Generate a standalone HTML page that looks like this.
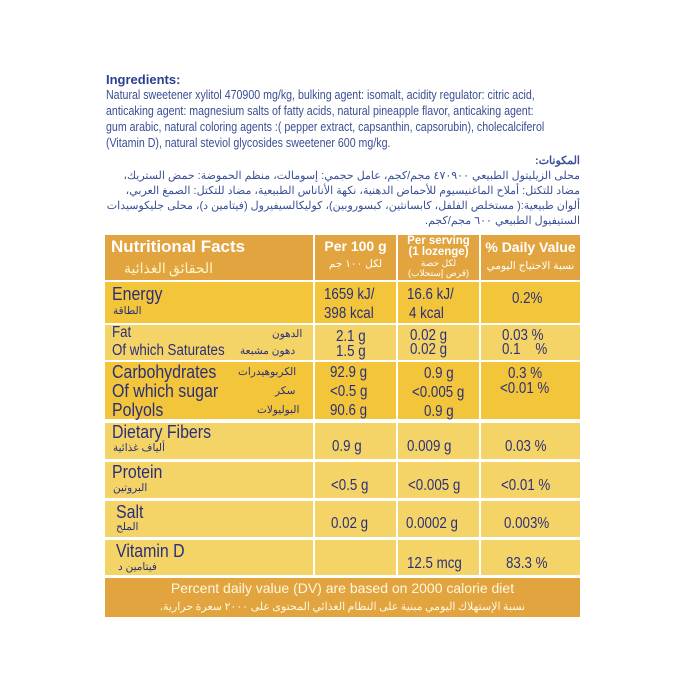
<!DOCTYPE html>
<html><head><meta charset="utf-8"><style>
body{margin:0;width:680px;height:680px;background:#fff;position:relative;overflow:hidden;font-family:"Liberation Sans",sans-serif;color:#2b2f7a}
.a{position:absolute;white-space:nowrap}
.c{position:absolute}
.ing{color:#3a4f95;font-size:12.5px;transform-origin:0 0;transform:scaleX(0.85)}
.ar{font-family:"Liberation Sans","Noto Sans CJK SC",sans-serif;direction:rtl;color:#3a4f95;font-size:11px;text-align:right;right:100px}
.h{background:#e1a43f}
.d{background:#f3c53a}
.l{background:#f5d467}
.t{font-size:15.5px;transform-origin:0 0;transform:scaleX(0.86);color:#2b2f7a}
.big{font-size:18.5px;transform-origin:0 0;transform:scaleX(0.86);color:#2b2f7a}
.sm{font-size:10.5px;font-family:"Liberation Sans","Noto Sans CJK SC",sans-serif;color:#2b2f7a}
.w{color:#fff;font-weight:bold}
.cen{text-align:center}
</style></head><body>
<div class="a" style="left:106px;top:72px;font-weight:bold;font-size:13px;color:#2b3f8f">Ingredients:</div>
<div class="a ing" style="left:106px;top:88px">Natural sweetener xylitol 470900 mg/kg, bulking agent: isomalt, acidity regulator: citric acid,</div>
<div class="a ing" style="left:106px;top:104px">anticaking agent: magnesium salts of fatty acids, natural pineapple flavor, anticaking agent:</div>
<div class="a ing" style="left:106px;top:120px">gum arabic, natural coloring agents :( pepper extract, capsanthin, capsorubin), cholecalciferol</div>
<div class="a ing" style="left:106px;top:136px">(Vitamin D), natural steviol glycosides sweetener 600 mg/kg.</div>
<div class="a ar" style="top:154px;font-weight:bold">المكونات:</div>
<div class="a ar" style="top:169px">محلى الزيليتول الطبيعي ٤٧٠٩٠٠ مجم/كجم، عامل حجمي: إسومالت، منظم الحموضة: حمض الستريك،</div>
<div class="a ar" style="top:184px">مضاد للتكتل: أملاح الماغنيسيوم للأحماض الدهنية، نكهة الأناناس الطبيعية، مضاد للتكتل: الصمغ العربي،</div>
<div class="a ar" style="top:199px">ألوان طبيعية:( مستخلص الفلفل، كابسانثين، كبسوروبين)، كوليكالسيفيرول (فيتامين د)، محلى جليكوسيدات</div>
<div class="a ar" style="top:214px">الستيفيول الطبيعي ٦٠٠ مجم/كجم.</div>

<div class="c h" style="left:105px;top:235px;width:208px;height:45px"></div>
<div class="c h" style="left:315px;top:235px;width:81px;height:45px"></div>
<div class="c h" style="left:398px;top:235px;width:81px;height:45px"></div>
<div class="c h" style="left:481px;top:235px;width:99px;height:45px"></div>
<div class="a w" style="left:111px;top:237px;font-size:17px">Nutritional Facts</div>
<div class="a" style="left:124px;top:258px;font-size:14px;color:#fff4c8;font-family:'Noto Sans CJK SC',sans-serif">الحقائق الغذائية</div>
<div class="a w cen" style="left:315px;width:81px;top:238px;font-size:14px">Per 100 g</div>
<div class="a cen sm" style="left:315px;width:81px;top:258px;color:#fff">لكل ١٠٠ جم</div>
<div class="a w cen" style="left:398px;width:81px;top:236px;font-size:11.5px;line-height:11px">Per serving<br>(1 lozenge)</div>
<div class="a cen sm" style="left:398px;width:81px;top:258px;color:#fff;font-size:9px;line-height:10px">لكل حصة<br>(قرص إستحلاب)</div>
<div class="a w cen" style="left:481px;width:99px;top:239px;font-size:14px">% Daily Value</div>
<div class="a cen sm" style="left:481px;width:99px;top:260px;color:#fff">نسبة الاحتياج اليومي</div>

<div class="c d" style="left:105px;top:282px;width:208px;height:41px"></div><div class="c d" style="left:315px;top:282px;width:81px;height:41px"></div><div class="c d" style="left:398px;top:282px;width:81px;height:41px"></div><div class="c d" style="left:481px;top:282px;width:99px;height:41px"></div>
<div class="c l" style="left:105px;top:325px;width:208px;height:35px"></div><div class="c l" style="left:315px;top:325px;width:81px;height:35px"></div><div class="c l" style="left:398px;top:325px;width:81px;height:35px"></div><div class="c l" style="left:481px;top:325px;width:99px;height:35px"></div>
<div class="c d" style="left:105px;top:362px;width:208px;height:57px"></div><div class="c d" style="left:315px;top:362px;width:81px;height:57px"></div><div class="c d" style="left:398px;top:362px;width:81px;height:57px"></div><div class="c d" style="left:481px;top:362px;width:99px;height:57px"></div>
<div class="c l" style="left:105px;top:423px;width:208px;height:36px"></div><div class="c l" style="left:315px;top:423px;width:81px;height:36px"></div><div class="c l" style="left:398px;top:423px;width:81px;height:36px"></div><div class="c l" style="left:481px;top:423px;width:99px;height:36px"></div>
<div class="c l" style="left:105px;top:462px;width:208px;height:36px"></div><div class="c l" style="left:315px;top:462px;width:81px;height:36px"></div><div class="c l" style="left:398px;top:462px;width:81px;height:36px"></div><div class="c l" style="left:481px;top:462px;width:99px;height:36px"></div>
<div class="c l" style="left:105px;top:501px;width:208px;height:36px"></div><div class="c l" style="left:315px;top:501px;width:81px;height:36px"></div><div class="c l" style="left:398px;top:501px;width:81px;height:36px"></div><div class="c l" style="left:481px;top:501px;width:99px;height:36px"></div>
<div class="c l" style="left:105px;top:540px;width:208px;height:35px"></div><div class="c l" style="left:315px;top:540px;width:81px;height:35px"></div><div class="c l" style="left:398px;top:540px;width:81px;height:35px"></div><div class="c l" style="left:481px;top:540px;width:99px;height:35px"></div>
<div class="c h" style="left:105px;top:578px;width:475px;height:39px"></div>

<div class="a big" style="left:112px;top:283px">Energy</div>
<div class="a sm" style="left:113px;top:305px">الطاقة</div>
<div class="a t" style="left:324px;top:286px">1659 kJ/</div>
<div class="a t" style="left:324px;top:305px">398 kcal</div>
<div class="a t" style="left:407px;top:286px">16.6 kJ/</div>
<div class="a t" style="left:409px;top:305px">4 kcal</div>
<div class="a t" style="left:512px;top:290px">0.2%</div>
<div class="a t" style="left:112px;top:324px">Fat</div>
<div class="a t" style="left:112px;top:342px">Of which Saturates</div>
<div class="a sm" style="left:272px;top:328px">الدهون</div>
<div class="a sm" style="left:240px;top:345px">دهون مشبعة</div>
<div class="a t" style="left:336px;top:328px">2.1 g</div>
<div class="a t" style="left:336px;top:343px">1.5 g</div>
<div class="a t" style="left:410px;top:327px">0.02 g</div>
<div class="a t" style="left:410px;top:341px">0.02 g</div>
<div class="a t" style="left:502px;top:327px">0.03 %</div>
<div class="a t" style="left:502px;top:341px">0.1 &nbsp;&nbsp;&nbsp;%</div>
<div class="a big" style="left:112px;top:361px">Carbohydrates</div>
<div class="a big" style="left:112px;top:380px">Of which sugar</div>
<div class="a big" style="left:112px;top:399px">Polyols</div>
<div class="a sm" style="left:238px;top:366px">الكربوهيدرات</div>
<div class="a sm" style="left:275px;top:385px">سكر</div>
<div class="a sm" style="left:257px;top:404px">البوليولات</div>
<div class="a t" style="left:330px;top:364px">92.9 g</div>
<div class="a t" style="left:330px;top:383px">&lt;0.5 g</div>
<div class="a t" style="left:330px;top:402px">90.6 g</div>
<div class="a t" style="left:424px;top:365px">0.9 g</div>
<div class="a t" style="left:412px;top:384px">&lt;0.005 g</div>
<div class="a t" style="left:424px;top:403px">0.9 g</div>
<div class="a t" style="left:508px;top:365px">0.3 %</div>
<div class="a t" style="left:500px;top:380px">&lt;0.01 %</div>
<div class="a big" style="left:112px;top:421px">Dietary Fibers</div>
<div class="a sm" style="left:113px;top:442px">ألياف غذائية</div>
<div class="a t" style="left:332px;top:438px">0.9 g</div>
<div class="a t" style="left:407px;top:438px">0.009 g</div>
<div class="a t" style="left:505px;top:438px">0.03 %</div>
<div class="a big" style="left:112px;top:461px">Protein</div>
<div class="a sm" style="left:113px;top:482px">البروتين</div>
<div class="a t" style="left:331px;top:477px">&lt;0.5 g</div>
<div class="a t" style="left:408px;top:477px">&lt;0.005 g</div>
<div class="a t" style="left:501px;top:477px">&lt;0.01 %</div>
<div class="a big" style="left:116px;top:501px">Salt</div>
<div class="a sm" style="left:116px;top:521px">الملح</div>
<div class="a t" style="left:331px;top:515px">0.02 g</div>
<div class="a t" style="left:406px;top:515px">0.0002 g</div>
<div class="a t" style="left:504px;top:515px">0.003%</div>
<div class="a big" style="left:116px;top:540px">Vitamin D</div>
<div class="a sm" style="left:118px;top:561px">فيتامين د</div>
<div class="a t" style="left:407px;top:555px">12.5 mcg</div>
<div class="a t" style="left:506px;top:555px">83.3 %</div>
<div class="a cen" style="left:105px;width:475px;top:580px;font-size:14px;color:#fff8e0">Percent daily value (DV) are based on 2000 calorie diet</div>
<div class="a cen" style="left:105px;width:475px;top:598px;font-size:11px;color:#fff8e0;font-family:'Noto Sans CJK SC',sans-serif;direction:rtl">نسبة الإستهلاك اليومي مبنية على النظام الغذائي المحتوى على ٢٠٠٠ سعرة حرارية.</div>
</body></html>
